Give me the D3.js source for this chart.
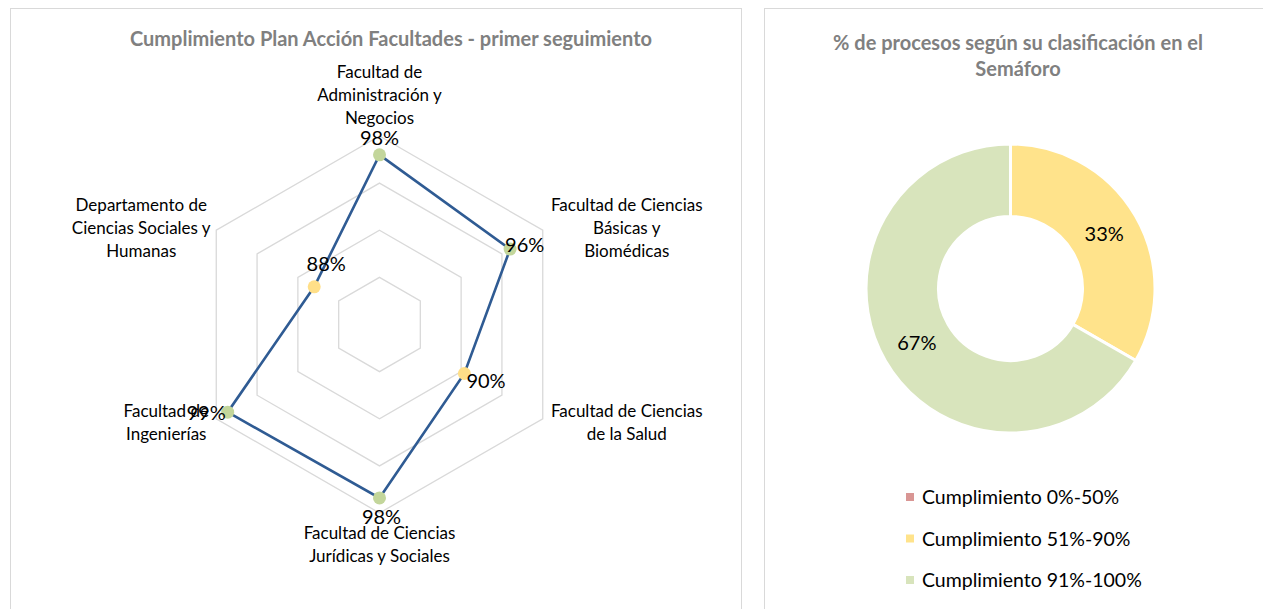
<!DOCTYPE html>
<html>
<head>
<meta charset="utf-8">
<script src="https://cdn.jsdelivr.net/npm/d3@7"></script>
<style>
  body { margin: 0; background: #fff; }
  svg { display: block; font-family: Lato, "Open Sans", sans-serif; }
</style>
</head>
<body>
<div id="chart"></div>
<script>
// radar data
const facultades = [
  ["Facultad de", "Administración y", "Negocios"],
  ["Facultad de Ciencias", "Básicas y", "Biomédicas"],
  ["Facultad de Ciencias", "de la Salud"],
  ["Facultad de Ciencias", "Jurídicas y Sociales"],
  ["Facultad de", "Ingenierías"],
  ["Departamento de", "Ciencias Sociales y", "Humanas"]
];
const cumplimiento = [0.98, 0.96, 0.904, 0.984, 0.986, 0.88];
const radarTicks = [0.85, 0.90, 0.95, 1.00];

// donut data
const semaforo = ["Cumplimiento 0%-50%", "Cumplimiento 51%-90%", "Cumplimiento 91%-100%"];
const procesos = [0, 0.333, 0.667];

const W = 1263, H = 609;
const svg = d3.select("#chart").append("svg")
    .attr("width", W)
    .attr("height", H);

// panel frames
svg.append("rect").attr("x", 10.5).attr("y", 8.5).attr("width", 731).attr("height", 620)
    .attr("fill", "#fff").attr("stroke", "#d9d9d9");
svg.append("rect").attr("x", 764.5).attr("y", 8.5).attr("width", 520).attr("height", 620)
    .attr("fill", "#fff").attr("stroke", "#d9d9d9");

// ---------- radar ----------
const cx = 379.5, cy = 324.5, R = 188.5;
const r = d3.scaleLinear().domain([0.8, 1]).range([0, R]);
const angle = d3.scaleLinear().domain([0, facultades.length]).range([0, 2 * Math.PI]);
const pt = (i, v) => [cx + r(v) * Math.sin(angle(i)), cy - r(v) * Math.cos(angle(i))];

svg.append("text")
    .attr("x", 391).attr("y", 46)
    .attr("text-anchor", "middle")
    .attr("font-size", 20).attr("font-weight", "bold").attr("fill", "#808080")
    .text("Cumplimiento Plan Acción Facultades - primer seguimiento");

const grid = svg.append("g");
radarTicks.forEach(t => {
  grid.append("path")
      .attr("d", d3.line()(d3.range(facultades.length).map(i => pt(i, t))) + "Z")
      .attr("fill", "none").attr("stroke", "#d9d9d9").attr("stroke-width", 1.3);
});

svg.append("path")
    .attr("d", d3.line()(cumplimiento.map((v, i) => pt(i, v))) + "Z")
    .attr("fill", "none").attr("stroke", "#2f5b93").attr("stroke-width", 2.6);

const dotColor = v => v > 0.905 ? "#c3d69b" : "#ffdf88";
svg.selectAll("circle.m").data(cumplimiento).enter().append("circle")
    .attr("class", "m")
    .attr("cx", (v, i) => pt(i, v)[0]).attr("cy", (v, i) => pt(i, v)[1])
    .attr("r", 6.5).attr("fill", dotColor);

// data labels (excel style placements)
const lblPos = [
  {dx: 0, dy: -10, a: "middle"},
  {dx: -5, dy: 3, a: "start"},
  {dx: 2, dy: 14, a: "start"},
  {dx: 2, dy: 26, a: "middle"},
  {dx: -2, dy: 8, a: "end"},
  {dx: 12, dy: -16, a: "middle"}
];
svg.selectAll("text.v").data(cumplimiento).enter().append("text")
    .attr("class", "v")
    .attr("x", (v, i) => pt(i, v)[0] + lblPos[i].dx)
    .attr("y", (v, i) => pt(i, v)[1] + lblPos[i].dy)
    .attr("text-anchor", (v, i) => lblPos[i].a)
    .attr("font-size", 20).attr("fill", "#000")
    .text(v => d3.format(".0%")(v));

// category labels around the outer ring
const lh = 23;
const catPos = [
  {dx: 0, dy: -18, a: "middle", v: "bottom"},
  {dx: 84, dy: -2, a: "middle", v: "center"},
  {dx: 84, dy: 4, a: "middle", v: "center"},
  {dx: 0, dy: 20, a: "middle", v: "top"},
  {dx: -50, dy: 4, a: "middle", v: "center"},
  {dx: -75, dy: -2, a: "middle", v: "center"}
];
facultades.forEach((lines, i) => {
  const [x, y] = pt(i, 1);
  const p = catPos[i];
  let first;
  if (p.v === "bottom") first = y + p.dy - (lines.length - 1) * lh;
  else if (p.v === "top") first = y + p.dy;
  else first = y + p.dy - (lines.length - 1) * lh / 2;
  const t = svg.append("text")
      .attr("text-anchor", p.a).attr("font-size", 17).attr("fill", "#000");
  lines.forEach((s, k) => {
    t.append("tspan").attr("x", x + p.dx).attr("y", first + k * lh + 6).text(s);
  });
});

// ---------- donut ----------
const dcx = 1010.5, dcy = 288.5, outerR = 144.5, innerR = 72;
const donutColors = ["#d99694", "#ffe38b", "#d8e4bc"];

const t2 = svg.append("text").attr("text-anchor", "middle")
    .attr("font-size", 20).attr("font-weight", "bold").attr("fill", "#808080");
t2.append("tspan").attr("x", 1018).attr("y", 50).text("% de procesos según su clasificación en el");
t2.append("tspan").attr("x", 1018).attr("y", 76).text("Semáforo");

const pie = d3.pie().sort(null).value(d => d);
const arc = d3.arc().innerRadius(innerR).outerRadius(outerR);
const arcs = pie(procesos);
const dg = svg.append("g").attr("transform", "translate(" + dcx + "," + dcy + ")");
dg.selectAll("path").data(arcs).enter().append("path")
    .attr("d", arc)
    .attr("fill", (d, i) => donutColors[i])
    .attr("stroke", "#fff").attr("stroke-width", 3);
dg.selectAll("text").data(arcs.filter(d => d.data > 0)).enter().append("text")
    .attr("transform", d => "translate(" + arc.centroid(d) + ")")
    .attr("text-anchor", "middle").attr("dy", "0.35em")
    .attr("font-size", 20).attr("fill", "#000")
    .text(d => d3.format(".0%")(d.data));

// legend
const ly = d3.scalePoint().domain(semaforo).range([497, 580]);
const lg = svg.append("g");
lg.selectAll("rect").data(semaforo).enter().append("rect")
    .attr("x", 906).attr("y", d => ly(d) - 4)
    .attr("width", 8).attr("height", 8)
    .attr("fill", (d, i) => donutColors[i]);
lg.selectAll("text").data(semaforo).enter().append("text")
    .attr("x", 922).attr("y", d => ly(d) + 7)
    .attr("font-size", 19.5).attr("fill", "#000")
    .text(d => d);
</script>
</body>
</html>
